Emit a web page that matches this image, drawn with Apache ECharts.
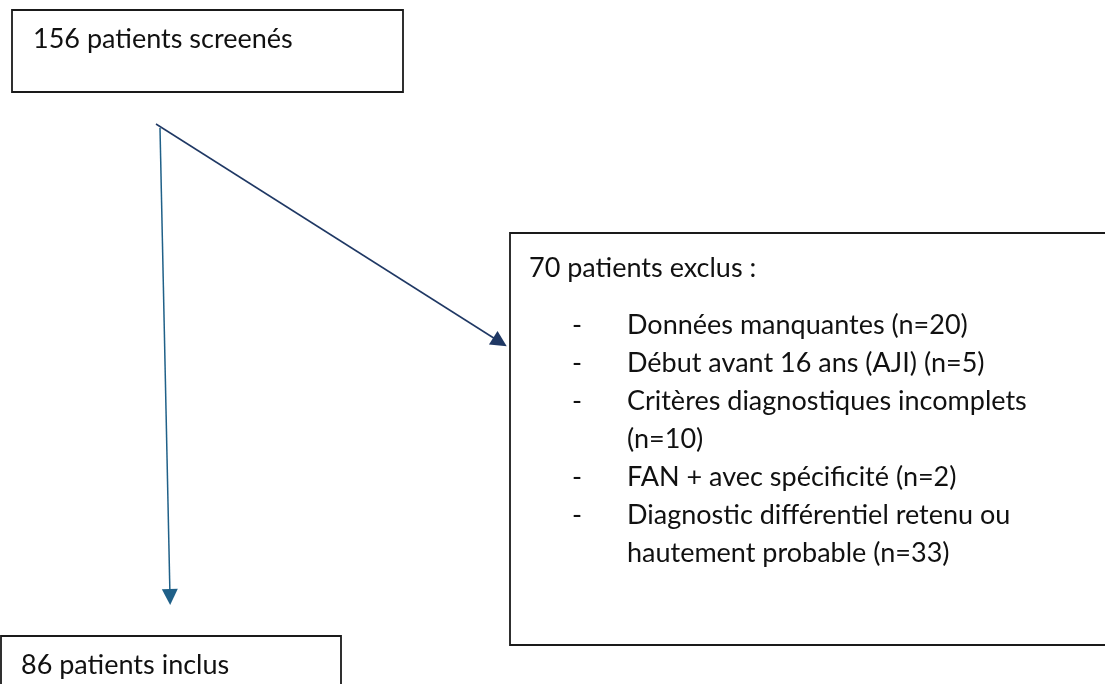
<!DOCTYPE html>
<html>
<head>
<meta charset="utf-8">
<script src="https://cdn.jsdelivr.net/npm/echarts@6/dist/echarts.min.js"></script>
<style>
    html, body { margin: 0; padding: 0; background: #fff; }
    #flow { width: 1105px; height: 684px; }
</style>
</head>
<body>
<div id="flow"></div>
<script>
const flow = echarts.init(document.getElementById('flow'));

// effectifs
const screened = 156;
const reasons = ['Données manquantes', 'Début avant 16 ans (AJI)', 'Critères diagnostiques incomplets',
    'FAN + avec spécificité', 'Diagnostic différentiel retenu ou hautement probable'];
const reasonCounts = [20, 5, 10, 2, 33];
const excluded = reasonCounts.reduce((a, b) => a + b, 0);
const included = screened - excluded;

// mise en page (axes cachés : 0..1105 en x, 0..684 en y vers le bas)
const layout = {
    boxes: [[12, 10, 403, 92], [510, 233, 1120, 645], [1, 636, 341, 700]],
    titles: [[33, 39], [529, 268], [21, 665]],
    bulletX: 572,
    bulletTextX: 627,
    bulletY: 325,
    lineH: 38,
    wrapW: 430,
    arrows: [
        { from: [160, 128], to: [170, 597], color: '#1f6088' },
        { from: [156, 124], to: [500, 342], color: '#1f3864' }
    ]
};

const FONT = 'Lato';
const FS = 27;

function wrap(text, width) {
    const ctx = document.createElement('canvas').getContext('2d');
    ctx.font = FS + 'px ' + FONT;
    const lines = [];
    let cur = '';
    text.split(' ').forEach(w => {
        const t = cur ? cur + ' ' + w : w;
        if (cur && ctx.measureText(t).width > width) {
            lines.push(cur);
            cur = w;
        } else {
            cur = t;
        }
    });
    lines.push(cur);
    return lines;
}

// textes : [x, y, texte]
const texts = [
    [layout.titles[0][0], layout.titles[0][1], screened + ' patients screenés'],
    [layout.titles[1][0], layout.titles[1][1], excluded + ' patients exclus :'],
    [layout.titles[2][0], layout.titles[2][1], included + ' patients inclus']
];
let yy = layout.bulletY;
reasons.forEach((r, i) => {
    texts.push([layout.bulletX, yy, '-']);
    wrap(r + ' (n=' + reasonCounts[i] + ')', layout.wrapW).forEach(l => {
        texts.push([layout.bulletTextX, yy, l]);
        yy += layout.lineH;
    });
});

const option = {
    animation: false,
    backgroundColor: '#fff',
    grid: { left: 0, right: 0, top: 0, bottom: 0 },
    xAxis: { type: 'value', min: 0, max: 1105, show: false },
    yAxis: { type: 'value', min: 0, max: 684, inverse: true, show: false },
    series: [{
        type: 'custom',
        data: layout.boxes,
        renderItem: function (params, api) {
            const p0 = api.coord([api.value(0), api.value(1)]);
            const p1 = api.coord([api.value(2), api.value(3)]);
            return {
                type: 'rect',
                shape: { x: p0[0], y: p0[1], width: p1[0] - p0[0], height: p1[1] - p0[1] },
                style: { fill: '#fff', stroke: '#1a1a1a', lineWidth: 1.8 }
            };
        }
    }, {
        type: 'custom',
        data: texts,
        renderItem: function (params, api) {
            const p = api.coord([api.value(0), api.value(1)]);
            return {
                type: 'text',
                x: p[0],
                y: p[1],
                style: {
                    text: texts[params.dataIndex][2],
                    fill: '#111',
                    font: FS + 'px ' + FONT,
                    textAlign: 'left',
                    textVerticalAlign: 'middle'
                }
            };
        }
    }, {
        type: 'lines',
        coordinateSystem: 'cartesian2d',
        symbol: ['none', 'triangle'],
        symbolSize: 16,
        data: layout.arrows.map(a => ({
            coords: [a.from, a.to],
            lineStyle: { color: a.color, width: 1.5 }
        })),
        lineStyle: { opacity: 1 }
    }]
};

flow.setOption(option);
</script>
</body>
</html>
